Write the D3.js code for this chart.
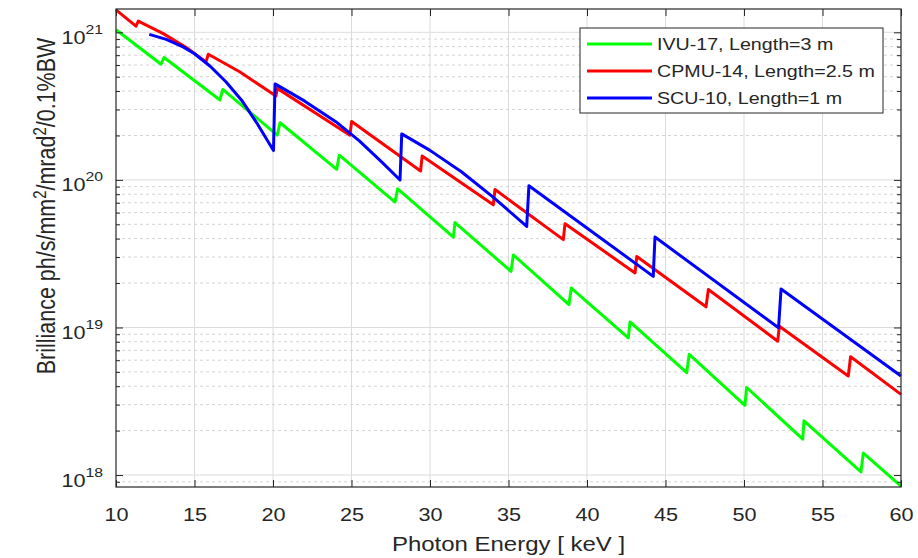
<!DOCTYPE html>
<html>
<head>
<meta charset="utf-8">
<script src="https://cdn.jsdelivr.net/npm/d3@7"></script>
<style>
  body { margin: 0; background: #fff; }
  text { font-family: "Liberation Sans", Arial, sans-serif; fill: #262626; }
</style>
</head>
<body>
<svg width="918" height="558"></svg>
<script>
// ---- data ----
const xTicks = [10, 15, 20, 25, 30, 35, 40, 45, 50, 55, 60];
const yDecades = [1e18, 1e19, 1e20, 1e21];
const seriesNames = ['IVU-17, Length=3 m', 'CPMU-14, Length=2.5 m', 'SCU-10, Length=1 m'];
const seriesColors = ['#00ff00', '#ff0000', '#0000ff'];

// IVU-17
const ivuEnergy = [10.00, 12.87, 13.06, 16.62, 16.80, 20.27, 20.45, 24.06, 24.22, 27.77, 27.94,
  31.49, 31.59, 35.16, 35.31, 38.85, 39.00, 42.63, 42.74, 46.35, 46.51, 50.06, 50.17,
  53.74, 53.82, 57.45, 57.60, 60.00];
const ivuBrilliance = [1.04e21, 6.08e20, 6.75e20, 3.48e20, 4.10e20, 2.01e20, 2.44e20, 1.18e20, 1.47e20, 7.08e19, 8.69e19,
  4.10e19, 5.14e19, 2.40e19, 3.10e19, 1.43e19, 1.85e19, 8.51e18, 1.09e19, 4.94e18, 6.58e18, 2.97e18, 3.92e18,
  1.75e18, 2.33e18, 1.05e18, 1.41e18, 8.4e17];

// CPMU-14
const cpmuEnergy = [10.00, 11.27, 11.42, 13.01, 14.50, 15.73, 15.88, 17.90, 20.19, 20.27, 24.90, 25.01,
  29.40, 29.50, 34.03, 34.14, 38.49, 38.60, 43.06, 43.17, 47.58, 47.73, 52.15, 52.25,
  56.64, 56.79, 60.00];
const cpmuBrilliance = [1.42e21, 1.10e21, 1.19e21, 9.80e20, 7.85e20, 6.30e20, 7.10e20, 5.38e20, 3.70e20, 4.17e20, 2.01e20, 2.49e20,
  1.15e20, 1.45e20, 6.78e19, 8.61e19, 3.94e19, 5.05e19, 2.34e19, 3.03e19, 1.38e19, 1.81e19, 8.07e18, 1.02e19,
  4.69e18, 6.34e18, 3.52e18];

// SCU-10
const scuEnergy = [12.12, 13.20, 14.30, 15.00, 16.00, 17.00, 18.00, 19.00, 20.03, 20.13,
  22.00, 24.00, 25.50, 27.00, 28.09, 28.20,
  30.00, 32.00, 34.00, 36.16, 36.30, 44.22, 44.33, 52.20, 52.36, 60.00];
const scuBrilliance = [9.68e20, 8.95e20, 7.94e20, 7.16e20, 5.89e20, 4.62e20, 3.47e20, 2.40e20, 1.58e20, 4.47e20,
  3.43e20, 2.48e20, 1.84e20, 1.30e20, 9.98e19, 2.05e20,
  1.585e20, 1.135e20, 7.67e19, 4.84e19, 9.12e19, 2.22e19, 4.10e19, 9.95e18, 1.82e19, 4.69e18];

const seriesData = [
  d3.zip(ivuEnergy, ivuBrilliance),
  d3.zip(cpmuEnergy, cpmuBrilliance),
  d3.zip(scuEnergy, scuBrilliance)
];

// ---- layout ----
const svg = d3.select('svg');
const plotLeft = 116, plotRight = 901, plotTop = 9, plotBottom = 487;
const stretch = 1.17; // picture is a bit wider than tall
const axisColor = '#262626';

const x = d3.scaleLinear().domain([10, 60]).range([plotLeft, plotRight]);
const y = d3.scaleLog().domain([Math.pow(10, 17.919), Math.pow(10, 21.158)]).range([plotBottom, plotTop]);

// minor log values 2..9 per decade inside the domain
const minorVals = [];
[1e17, 1e18, 1e19, 1e20, 1e21].forEach(d => {
  for (let k = 2; k <= 9; k++) {
    const v = d * k;
    if (v > y.domain()[0] && v < y.domain()[1]) minorVals.push(v);
  }
});

// grid
const grid = svg.append('g');
grid.selectAll('.vgrid').data(xTicks.slice(1, -1)).join('line')
  .attr('x1', d => x(d)).attr('x2', d => x(d))
  .attr('y1', plotTop).attr('y2', plotBottom)
  .attr('stroke', '#dcdcdc').attr('stroke-width', 1);
grid.selectAll('.mgrid').data(minorVals).join('line')
  .attr('x1', plotLeft).attr('x2', plotRight)
  .attr('y1', d => y(d)).attr('y2', d => y(d))
  .attr('stroke', '#d4d4d4').attr('stroke-width', 1)
  .attr('stroke-dasharray', '3,3');
grid.selectAll('.hgrid').data(yDecades).join('line')
  .attr('x1', plotLeft).attr('x2', plotRight)
  .attr('y1', d => y(d)).attr('y2', d => y(d))
  .attr('stroke', '#dcdcdc').attr('stroke-width', 1);

// curves
const line = d3.line().x(d => x(d[0])).y(d => y(d[1]));
svg.append('g').selectAll('path').data(seriesData).join('path')
  .attr('d', line)
  .attr('fill', 'none')
  .attr('stroke', (d, i) => seriesColors[i])
  .attr('stroke-width', 3)
  .attr('stroke-linejoin', 'round');

// axes
const xAxis = svg.append('g').attr('transform', `translate(0,${plotBottom})`)
  .call(d3.axisBottom(x).tickValues(xTicks).tickSizeInner(-7).tickSizeOuter(0).tickPadding(0));
xAxis.selectAll('text')
  .attr('y', 34).attr('dy', null)
  .attr('font-size', 18.5)
  .attr('transform', `scale(${stretch},1)`);

svg.append('g').attr('transform', `translate(0,${plotTop})`)
  .call(d3.axisTop(x).tickValues(xTicks).tickSizeInner(-7).tickSizeOuter(0).tickFormat(''));

const yAxis = svg.append('g').attr('transform', `translate(${plotLeft},0)`)
  .call(d3.axisLeft(y).tickValues(yDecades).tickSizeInner(-7).tickSizeOuter(0).tickFormat(''));
yAxis.selectAll('.tick').append('text')
  .attr('text-anchor', 'end')
  .attr('transform', `scale(${stretch},1)`)
  .attr('x', -11)
  .each(function(d) {
    const t = d3.select(this);
    t.append('tspan').attr('font-size', 18.5).attr('dy', 11).text('10');
    t.append('tspan').attr('font-size', 13.5).attr('dy', -10).text(Math.round(Math.log10(d)));
  });
svg.append('g').attr('transform', `translate(${plotLeft},0)`)
  .call(d3.axisLeft(y).tickValues(minorVals).tickSizeInner(-4).tickSizeOuter(0).tickFormat(''));

svg.append('g').attr('transform', `translate(${plotRight},0)`)
  .call(d3.axisRight(y).tickValues(yDecades).tickSizeInner(-7).tickSizeOuter(0).tickFormat(''));
svg.append('g').attr('transform', `translate(${plotRight},0)`)
  .call(d3.axisRight(y).tickValues(minorVals).tickSizeInner(-4).tickSizeOuter(0).tickFormat(''));

svg.selectAll('.domain').remove();
svg.selectAll('.tick line').attr('stroke', axisColor);

// box
svg.append('rect')
  .attr('x', plotLeft).attr('y', plotTop)
  .attr('width', plotRight - plotLeft).attr('height', plotBottom - plotTop)
  .attr('fill', 'none').attr('stroke', axisColor).attr('stroke-width', 1.2);

// axis titles
svg.append('text')
  .attr('transform', `translate(${(plotLeft + plotRight) / 2},551) scale(${stretch},1)`)
  .attr('text-anchor', 'middle')
  .attr('font-size', 20.5)
  .text('Photon Energy [ keV ]');

const yTitle = svg.append('text')
  .attr('transform', `translate(55,206) scale(${stretch},1) rotate(-90)`)
  .attr('text-anchor', 'middle')
  .attr('font-size', 21.5);
yTitle.append('tspan').text('Brilliance ph/s/mm');
yTitle.append('tspan').attr('font-size', 15).attr('dy', -8).text('2');
yTitle.append('tspan').attr('dy', 8).text('/mrad');
yTitle.append('tspan').attr('font-size', 15).attr('dy', -8).text('2');
yTitle.append('tspan').attr('dy', 8).text('/0.1%BW');

// legend
const legend = svg.append('g');
legend.append('rect')
  .attr('x', 580).attr('y', 28).attr('width', 303).attr('height', 85)
  .attr('fill', '#fff').attr('stroke', axisColor).attr('stroke-width', 1);
const rows = legend.selectAll('.row').data(seriesNames).join('g')
  .attr('transform', (d, i) => `translate(0,${44 + i * 27})`);
rows.append('line')
  .attr('x1', 587).attr('x2', 652).attr('y1', 0).attr('y2', 0)
  .attr('stroke', (d, i) => seriesColors[i]).attr('stroke-width', 3);
rows.append('text')
  .attr('transform', `translate(657,6) scale(${stretch},1)`)
  .attr('font-size', 16.8)
  .text(d => d);
</script>
</body>
</html>
